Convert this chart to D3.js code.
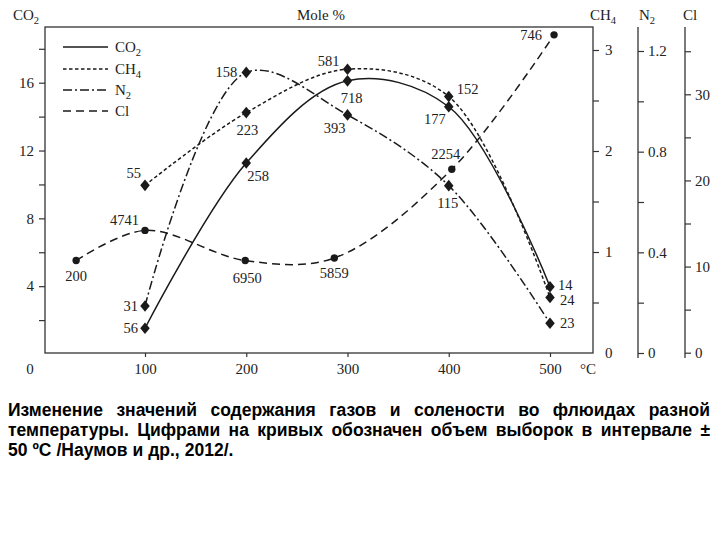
<!DOCTYPE html>
<html><head><meta charset="utf-8">
<script src="https://cdn.jsdelivr.net/npm/d3@7"></script>
<style>
html,body{margin:0;padding:0;background:#fff;}
svg{display:block;}
.ax{font-family:"Liberation Serif","DejaVu Serif",serif;font-size:15px;fill:#222;}
.lbl{font-family:"Liberation Serif","DejaVu Serif",serif;font-size:14.5px;fill:#222;}
.cap{font-family:"Liberation Sans",Arial,sans-serif;font-size:17.5px;font-weight:bold;fill:#000;}
</style></head>
<body>
<script>
// ---- data ----
const temps = [100, 200, 300, 400, 500];
const co2 = [1.52, 11.26, 16.11, 14.58, 3.97];
const ch4 = [1.66, 2.38, 2.81, 2.54, 0.55];
const n2  = [0.187, 1.115, 0.946, 0.665, 0.118];
const clTemps = [32, 100, 199, 287, 403, 504];
const cl = [10.7, 14.2, 10.7, 11.0, 21.3, 36.9];
const co2Counts = ["56", "258", "718", "177", "14"];
const ch4Counts = ["55", "223", "581", "152", "24"];
const n2Counts  = ["31", "158", "393", "115", "23"];
const clCounts  = ["200", "4741", "6950", "5859", "2254", "746"];
const xTicks = [100, 200, 300, 400, 500];
const co2Ticks = [4, 8, 12, 16];
const co2Minor = [2, 6, 10, 14, 18];
const ch4Ticks = [0, 1, 2, 3];
const ch4Minor = [0.5, 1.5, 2.5];
const n2Ticks = [0, 0.4, 0.8, 1.2];
const n2Minor = [0.2, 0.6, 1.0];
const clTicksV = [0, 10, 20, 30];
const clMinor = [5, 15, 25, 35];
const captionLines = [
  "Изменение значений содержания газов и солености во флюидах разной",
  "температуры. Цифрами на кривых обозначен объем выборок в интервале ±",
  "50 ºC /Наумов и др., 2012/."
];

// ---- layout ----
const W = 720, H = 540;
const L = 45, R = 593, T = 27, B = 353;
const svg = d3.select("body").append("svg").attr("width", W).attr("height", H);
const ink = "#1a1a1a";

const x = d3.scaleLinear().domain([0, 500]).range([43.75, 550]);
const yCO2 = d3.scaleLinear().domain([0, 16]).range([354, 82.7]);
const yCH4 = d3.scaleLinear().domain([0, 3]).range([353, 50]);
const yN2 = d3.scaleLinear().domain([0, 1.2]).range([353, 51]);
const yCl = d3.scaleLinear().domain([0, 30]).range([352.7, 94.3]);

// frame
svg.append("rect").attr("x", L).attr("y", T).attr("width", R - L).attr("height", B - T)
  .attr("fill", "none").attr("stroke", "#333").attr("stroke-width", 1.3);

function styleAxis(g) {
  g.select(".domain").remove();
  g.selectAll("line").attr("stroke", "#333").attr("stroke-width", 1.2);
  g.selectAll("text").attr("class", "ax").attr("font-size", null).attr("font-family", null);
}

// x axis
svg.append("g").attr("transform", `translate(0,${B})`)
  .call(d3.axisBottom(x).tickValues(xTicks).tickSize(4).tickSizeOuter(0).tickPadding(6))
  .call(styleAxis);
svg.append("text").attr("class", "ax").attr("x", 30).attr("y", 374).attr("text-anchor", "middle").text("0");
svg.append("text").attr("class", "ax").attr("x", 588).attr("y", 374).attr("text-anchor", "middle").text("°C");

// left CO2 axis
svg.append("g").attr("transform", `translate(${L},0)`)
  .call(d3.axisLeft(yCO2).tickValues(co2Ticks).tickSize(6).tickPadding(5))
  .call(styleAxis);
svg.append("g").attr("transform", `translate(${L},0)`)
  .call(d3.axisLeft(yCO2).tickValues(co2Minor).tickSize(6).tickFormat(""))
  .call(styleAxis);

// right CH4 axis
const gr = svg.append("g").attr("transform", `translate(${R},0)`)
  .call(d3.axisRight(yCH4).tickValues(ch4Ticks).tickSize(6).tickPadding(6).tickFormat(d3.format("d")))
  .call(styleAxis);
gr.selectAll(".tick").filter(d => d === 0).select("line").remove();
svg.append("g").attr("transform", `translate(${R},0)`)
  .call(d3.axisRight(yCH4).tickValues(ch4Minor).tickSize(6).tickFormat(""))
  .call(styleAxis);

// N2 axis
const n2x = 638;
svg.append("line").attr("x1", n2x).attr("x2", n2x).attr("y1", T).attr("y2", 358)
  .attr("stroke", "#333").attr("stroke-width", 1.3);
svg.append("g").attr("transform", `translate(${n2x},0)`)
  .call(d3.axisRight(yN2).tickValues(n2Ticks).tickSize(6).tickPadding(4).tickFormat(d => d === 0 ? "0" : d3.format(".1f")(d)))
  .call(styleAxis);
svg.append("g").attr("transform", `translate(${n2x},0)`)
  .call(d3.axisRight(yN2).tickValues(n2Minor).tickSize(6).tickFormat(""))
  .call(styleAxis);

// Cl axis
const clx = 685;
svg.append("line").attr("x1", clx).attr("x2", clx).attr("y1", T).attr("y2", 358)
  .attr("stroke", "#333").attr("stroke-width", 1.3);
svg.append("g").attr("transform", `translate(${clx},0)`)
  .call(d3.axisRight(yCl).tickValues(clTicksV).tickSize(6).tickPadding(4))
  .call(styleAxis);
svg.append("g").attr("transform", `translate(${clx},0)`)
  .call(d3.axisRight(yCl).tickValues(clMinor).tickSize(6).tickFormat(""))
  .call(styleAxis);

// axis titles
function chem(xx, yy, base, sub) {
  const t = svg.append("text").attr("class", "ax").attr("x", xx).attr("y", yy).attr("text-anchor", "middle");
  t.append("tspan").text(base);
  if (sub) t.append("tspan").attr("font-size", "10.5px").attr("dy", 4).text(sub);
  return t;
}
chem(26, 20, "CO", "2");
svg.append("text").attr("class", "ax").attr("x", 321).attr("y", 20).attr("text-anchor", "middle").attr("font-size", "14px").text("Mole %");
chem(603, 20, "CH", "4");
chem(647, 20, "N", "2");
svg.append("text").attr("class", "ax").attr("x", 690).attr("y", 20).attr("text-anchor", "middle").text("Cl");

// series
const series = [
  {name: "CO", sub: "2", xs: temps, ys: co2, sc: yCO2, dash: null, sym: "d", labels: co2Counts},
  {name: "CH", sub: "4", xs: temps, ys: ch4, sc: yCH4, dash: "3.5,2.5", sym: "d", labels: ch4Counts},
  {name: "N", sub: "2", xs: temps, ys: n2, sc: yN2, dash: "9,3,2,3", sym: "d", labels: n2Counts},
  {name: "Cl", sub: "", xs: clTemps, ys: cl, sc: yCl, dash: "8,5", sym: "c", labels: clCounts}
];
// label placement (dx, dy, anchor) per series
const labelPlace = [
  [[-7,5,"end"],[1,18,"start"],[4,22,"middle"],[-14,17,"middle"],[8,3,"start"]],
  [[-4,-7,"end"],[1,22,"middle"],[-8,-3,"end"],[8,-2,"start"],[10,8,"start"]],
  [[-7,5,"end"],[-9,5,"end"],[-13,18,"middle"],[-1,22,"middle"],[10,5,"start"]],
  [[0,20,"middle"],[-6,-5,"end"],[2,22,"middle"],[0,20,"middle"],[-6,-10,"middle"],[-12,5,"end"]]
];

series.forEach((s, si) => {
  const pts = s.xs.map((t, i) => [x(t), s.sc(s.ys[i])]);
  svg.append("path").attr("d", d3.line().curve(d3.curveCatmullRom.alpha(0.5))(pts))
    .attr("fill", "none").attr("stroke", ink).attr("stroke-width", 1.5)
    .attr("stroke-dasharray", s.dash);
  pts.forEach((p, i) => {
    if (s.sym === "d") {
      svg.append("path").attr("d", d3.symbol(d3.symbolDiamond, 48)())
        .attr("transform", `translate(${p[0]},${p[1]}) scale(1.28,0.9)`).attr("fill", ink);
    } else {
      svg.append("circle").attr("cx", p[0]).attr("cy", p[1]).attr("r", 3.7).attr("fill", ink);
    }
    const lp = labelPlace[si][i];
    svg.append("text").attr("class", "lbl").attr("x", p[0] + lp[0]).attr("y", p[1] + lp[1])
      .attr("text-anchor", lp[2]).text(s.labels[i]);
  });
});

// legend
const legY = [47, 69, 90, 111];
series.forEach((s, i) => {
  svg.append("line").attr("x1", 63).attr("x2", 108).attr("y1", legY[i]).attr("y2", legY[i])
    .attr("stroke", ink).attr("stroke-width", 1.5).attr("stroke-dasharray", s.dash);
  const t = svg.append("text").attr("class", "ax").attr("x", 115).attr("y", legY[i] + 5);
  t.append("tspan").text(s.name);
  if (s.sub) t.append("tspan").attr("font-size", "10.5px").attr("dy", 4).text(s.sub);
});

// caption (justified)
const capL = 8, capR = 710, capY = [416, 436, 456];
captionLines.forEach((line, li) => {
  const words = line.split(" ");
  const g = svg.append("g");
  const nodes = words.map(w => g.append("text").attr("class", "cap").attr("y", capY[li]).text(w));
  const widths = nodes.map(n => n.node().getComputedTextLength());
  const total = d3.sum(widths);
  const justify = li < captionLines.length - 1;
  const gap = justify ? (capR - capL - total) / (words.length - 1) : 5;
  let cx = capL;
  nodes.forEach((n, i) => { n.attr("x", cx); cx += widths[i] + gap; });
});
</script>
</body></html>
